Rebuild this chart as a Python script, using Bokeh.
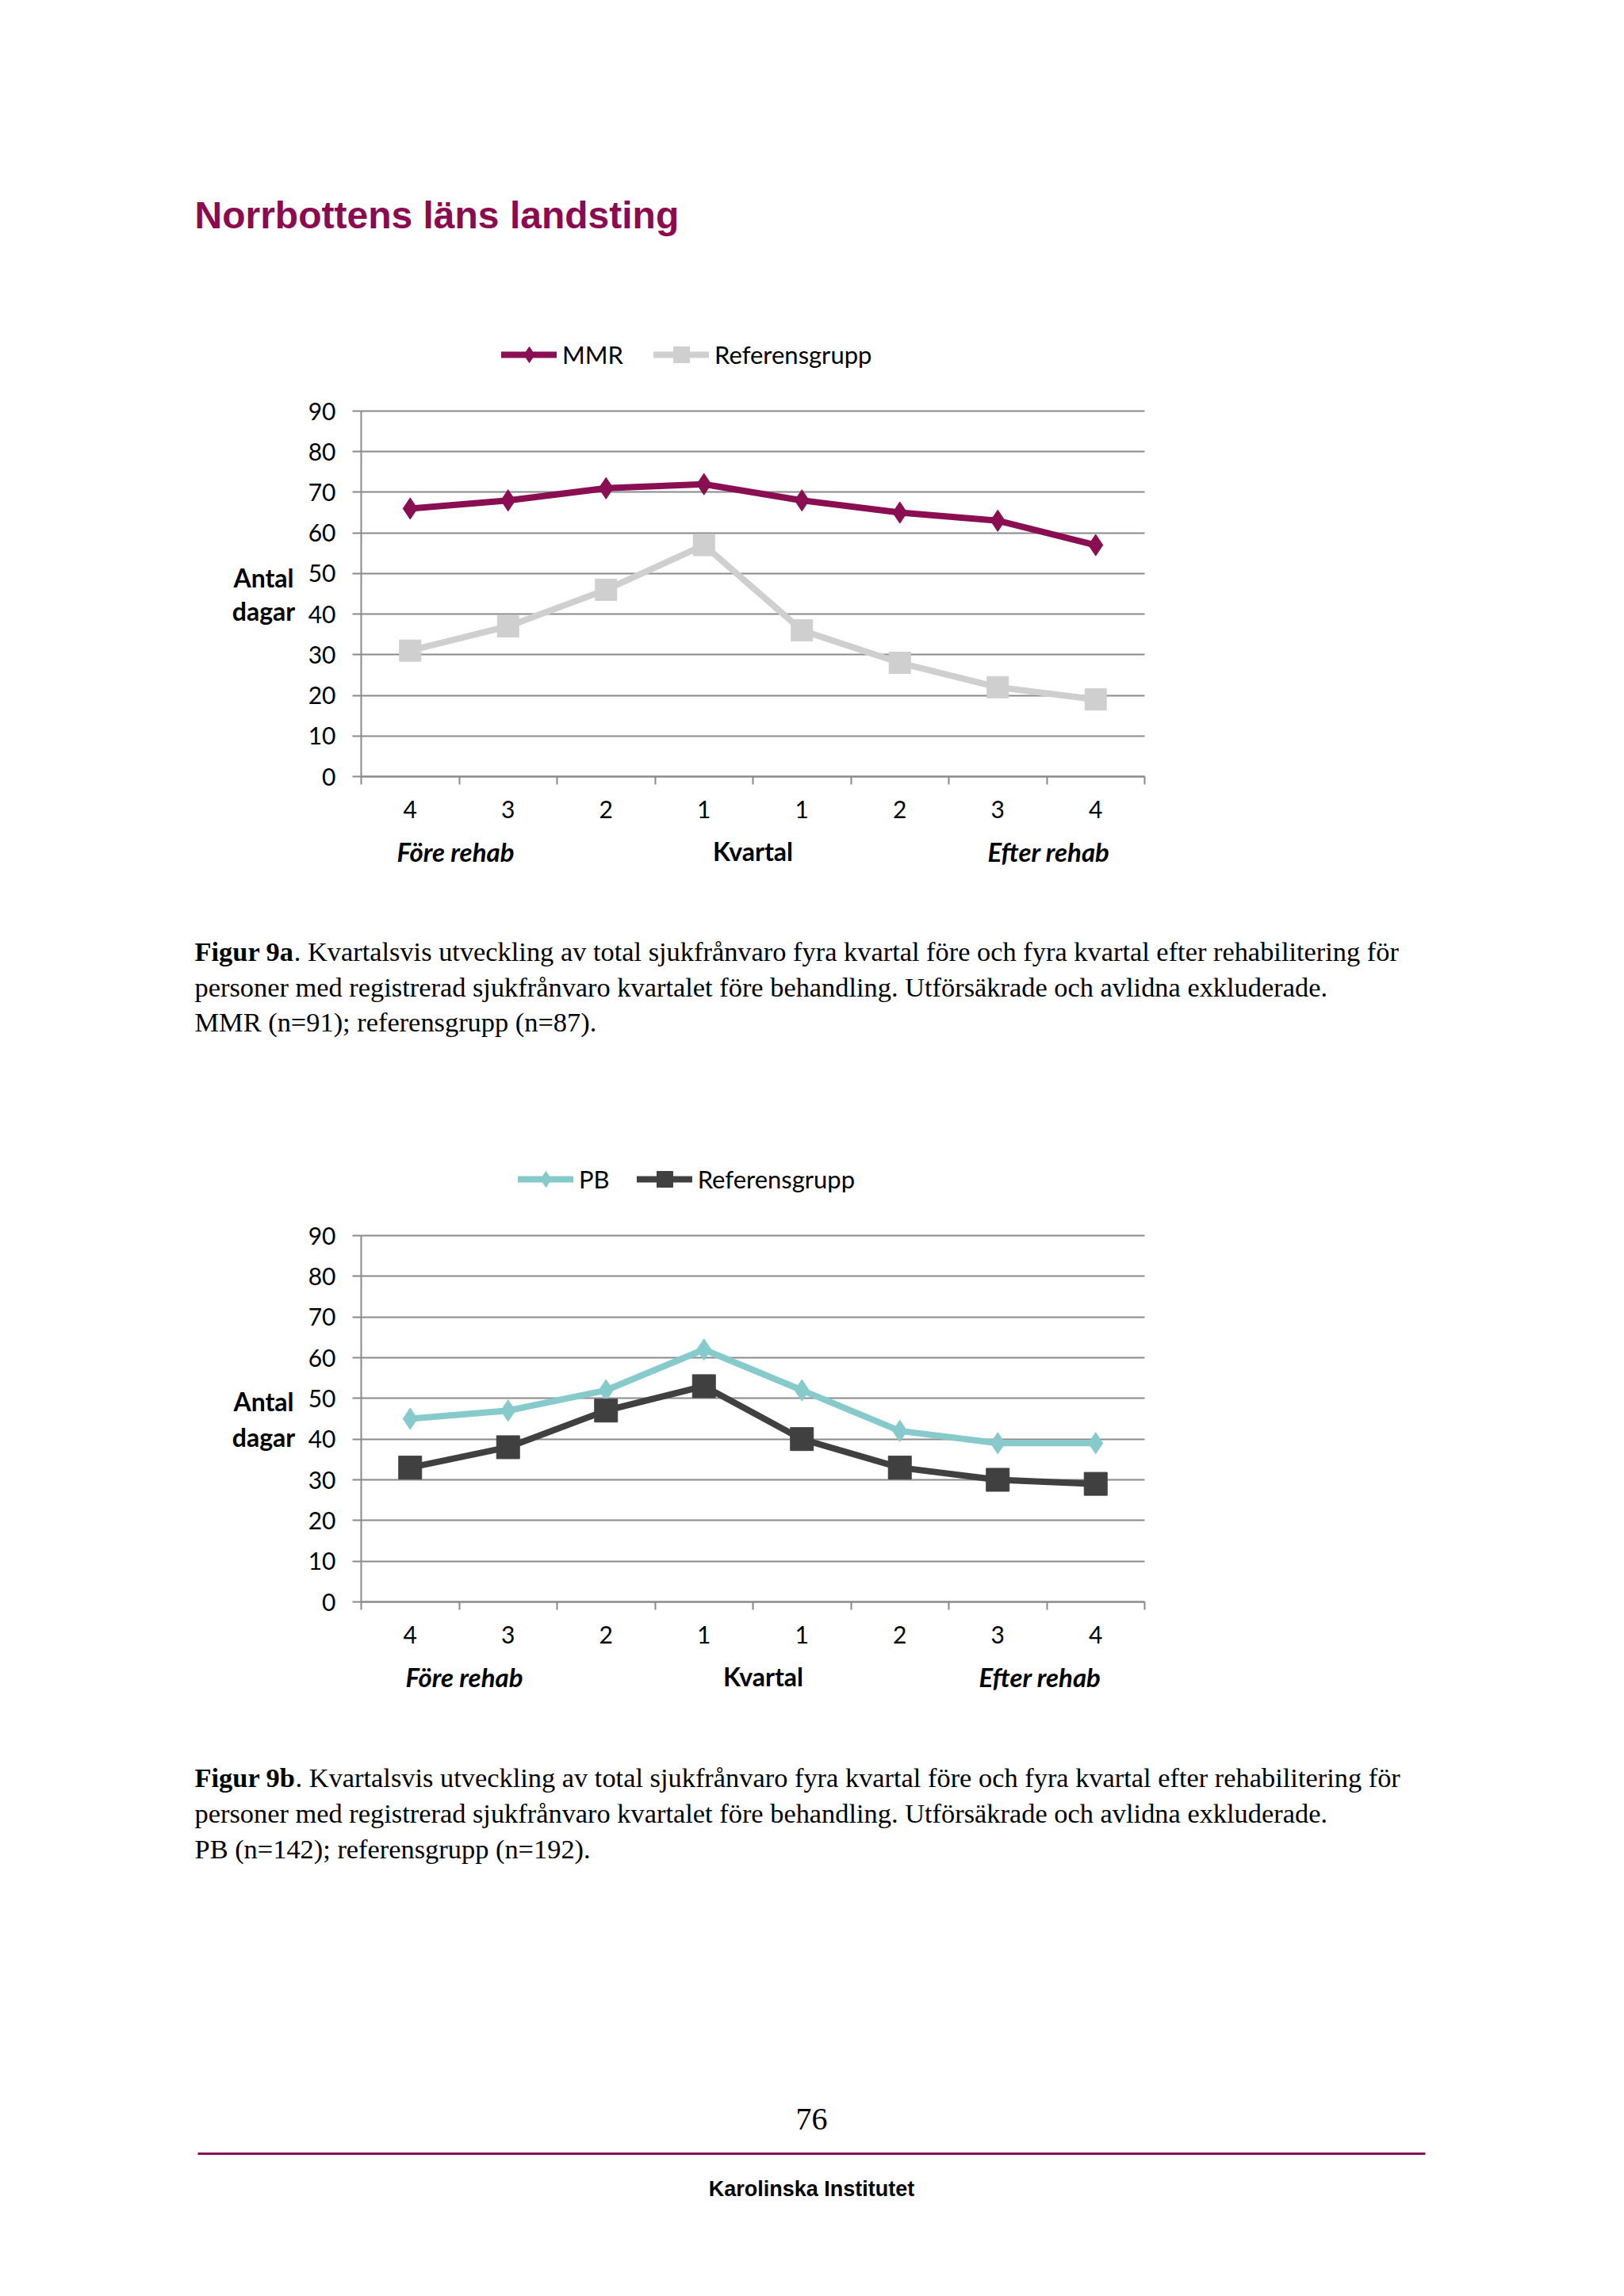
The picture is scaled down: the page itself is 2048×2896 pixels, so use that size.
from bokeh.plotting import figure
from bokeh.models import (Range1d, FixedTicker, Legend, LegendItem, LinearAxis, Grid)
from bokeh.core.properties import value
from bokeh.embed import file_html
from bokeh.resources import INLINE

# ---------------- data ----------------
quarters = ["4", "3", "2", "1", "1", "2", "3", "4"]
mmr = [66, 68, 71, 72, 68, 65, 63, 57]
ref_a = [31, 37, 46, 57, 36, 28, 22, 19]
pb = [45, 47, 52, 62, 52, 42, 39, 39]
ref_b = [33, 38, 47, 53, 40, 33, 30, 29]
y_ticks = list(range(0, 100, 10))

page_title = "Norrbottens läns landsting"
cap_a = ["Figur 9a",
         ". Kvartalsvis utveckling av total sjukfrånvaro fyra kvartal före och fyra kvartal efter rehabilitering för",
         "personer med registrerad sjukfrånvaro kvartalet före behandling. Utförsäkrade och avlidna exkluderade.",
         "MMR (n=91); referensgrupp (n=87)."]
cap_b = ["Figur 9b",
         ". Kvartalsvis utveckling av total sjukfrånvaro fyra kvartal före och fyra kvartal efter rehabilitering för",
         "personer med registrerad sjukfrånvaro kvartalet före behandling. Utförsäkrade och avlidna exkluderade.",
         "PB (n=142); referensgrupp (n=192)."]
page_no = "76"
footer = "Karolinska Institutet"

# ---------------- styles / geometry (page pixels) ----------------
C_MMR = "#8A0E52"
C_REF_A = "#CFCFCF"
C_PB = "#86CACB"
C_REF_B = "#404040"
GRID = "#8A8A8A"
TITLE_C = "#8B0A50"
RULE_C = "#86145A"
SANS = "Lato"
SERIF = "Liberation Serif"
W, H, M = 2032, 2880, 0          # canvas size and page offset

PX_LEFT, PX_RIGHT = 455, 1443     # plot area left / right (page px)
A_ZERO, A_TOP = 979, 518          # chart a: y of 0 and 90
B_ZERO, B_TOP = 2020, 1558        # chart b: y of 0 and 90

xs = list(range(1, len(quarters) + 1))
cat_w = (PX_RIGHT - PX_LEFT) / len(xs)
x_start = 0.5 - (PX_LEFT - M) / cat_w
x_end = 0.5 + (M + W - PX_LEFT) / cat_w


def yrange(zero, top):
    k = (zero - top) / 90.0
    return Range1d(-(M + H - zero) / k, (zero - M) / k)


p = figure(width=W, height=H, output_backend="svg", toolbar_location=None,
           x_range=Range1d(x_start, x_end), y_range=yrange(A_ZERO, A_TOP),
           x_axis_type=None, y_axis_type=None, min_border=0)
p.extra_y_ranges = {"b": yrange(B_ZERO, B_TOP), "py": Range1d(M + H, M)}
p.extra_x_ranges = {"px": Range1d(M, M + W)}
p.outline_line_color = None
p.background_fill_color = "white"
p.border_fill_color = "white"
p.grid.visible = False

has_cross = "cross_bounds" in Grid.properties()


def chart(rname, s1, s2, legend_xy, spacing):
    # grid lines
    if has_cross:
        g = Grid(dimension=1, ticker=FixedTicker(ticks=y_ticks), y_range_name=rname,
                 cross_bounds=(0.5, 8.5), grid_line_color=GRID, grid_line_width=2)
        p.add_layout(g)
    else:
        p.segment(x0=[0.5] * len(y_ticks), x1=[8.5] * len(y_ticks), y0=y_ticks, y1=y_ticks,
                  y_range_name=rname, line_color=GRID, line_width=2)

    ya = LinearAxis(y_range_name=rname, fixed_location=0.5, bounds=(0, 90),
                    ticker=FixedTicker(ticks=y_ticks))
    ya.axis_line_color = GRID
    ya.axis_line_width = 2
    ya.major_tick_line_color = GRID
    ya.major_tick_line_width = 2
    ya.major_tick_out = 11
    ya.major_tick_in = 0
    ya.minor_tick_line_color = None
    ya.major_label_standoff = 21
    ya.major_label_text_font = SANS
    ya.major_label_text_font_size = "30px"
    ya.major_label_text_color = "black"
    p.add_layout(ya, "left")

    xa = LinearAxis(y_range_name=rname, fixed_location=0, bounds=(0.5, 8.5),
                    ticker=FixedTicker(ticks=xs, minor_ticks=[x - 0.5 for x in xs] + [8.5]))
    xa.major_label_overrides = {x: q for x, q in zip(xs, quarters)}
    xa.axis_line_color = GRID
    xa.axis_line_width = 2
    xa.major_tick_line_color = None
    xa.major_tick_out = 10
    xa.major_tick_in = 0
    xa.minor_tick_line_color = GRID
    xa.minor_tick_line_width = 2
    xa.minor_tick_out = 10
    xa.minor_tick_in = 0
    xa.major_label_standoff = 20
    xa.major_label_text_font = SANS
    xa.major_label_text_font_size = "30px"
    xa.major_label_text_color = "black"
    p.add_layout(xa, "below")

    items = []
    for (name, vals, col, marker, msize) in (s1, s2):
        ln = p.line(xs, vals, y_range_name=rname, line_width=8, color=col,
                    line_join="round", line_cap="round")
        sc = p.scatter(xs, vals, y_range_name=rname, marker=marker, size=msize, color=col)
        items.append(LegendItem(label=name, renderers=[ln, sc]))
    lg = Legend(items=items, orientation="horizontal", location=legend_xy,
                glyph_width=70, glyph_height=50, label_standoff=7, spacing=spacing,
                padding=0, margin=0, border_line_color=None, background_fill_alpha=0,
                label_text_font=SANS, label_text_font_size="31px", label_text_color="black")
    p.add_layout(lg)


def txt(x, y, s, font=SANS, size="30px", style="normal", align="left",
        baseline="middle", color="black"):
    p.text(x=[x], y=[y], text=[s], x_range_name="px", y_range_name="py",
           text_font=value(font), text_font_size=size, text_font_style=style,
           text_align=align, text_baseline=baseline, text_color=color)


# chart a (MMR)
chart("default", ("MMR", mmr, C_MMR, "diamond", 27),
      ("Referensgrupp", ref_a, C_REF_A, "square", 27),
      (632 - M, M + H - 472), 38)
# chart b (PB)
chart("b", ("PB", pb, C_PB, "diamond", 27),
      ("Referensgrupp", ref_b, C_REF_B, "square", 29),
      (653 - M, M + H - 1512), 34)

# page title
txt(245, 271, page_title, font="Liberation Sans", size="48px", style="bold",
    baseline="alphabetic", color=TITLE_C)

# axis side texts
for (ya_, yd_, ty, fx, kx, ex) in ((728, 770, 1073, 574, 949, 1322),
                                   (1767, 1812, 2114, 585, 962, 1311)):
    txt(332, ya_, "Antal", style="bold", size="32px", align="center")
    txt(332, yd_, "dagar", style="bold", size="32px", align="center")
    txt(fx, ty, "Före rehab", style="bold italic", size="33px", align="center")
    txt(kx, ty, "Kvartal", style="bold", size="32px", align="center")
    txt(ex, ty, "Efter rehab", style="bold italic", size="33px", align="center")

# captions
CAP = "34.4px"
for lines, ys, bw in ((cap_a, (1199, 1244, 1288), 125.2), (cap_b, (2241, 2286, 2331), 127.1)):
    txt(245, ys[0], lines[0], font=SERIF, size=CAP, style="bold", baseline="alphabetic")
    txt(245 + bw, ys[0], lines[1], font=SERIF, size=CAP, baseline="alphabetic")
    txt(245, ys[1], lines[2], font=SERIF, size=CAP, baseline="alphabetic")
    txt(245, ys[2], lines[3], font=SERIF, size=CAP, baseline="alphabetic")

# footer
p.segment(x0=[249], y0=[2716], x1=[1797], y1=[2716], x_range_name="px", y_range_name="py",
          line_width=3, color=RULE_C)
txt(1023, 2672, page_no, font=SERIF, size="40px", align="center", baseline="alphabetic")
txt(1023, 2760, footer, font="Liberation Sans", size="27px", style="bold", align="center")

open("out.html", "w").write(file_html(p, INLINE))
